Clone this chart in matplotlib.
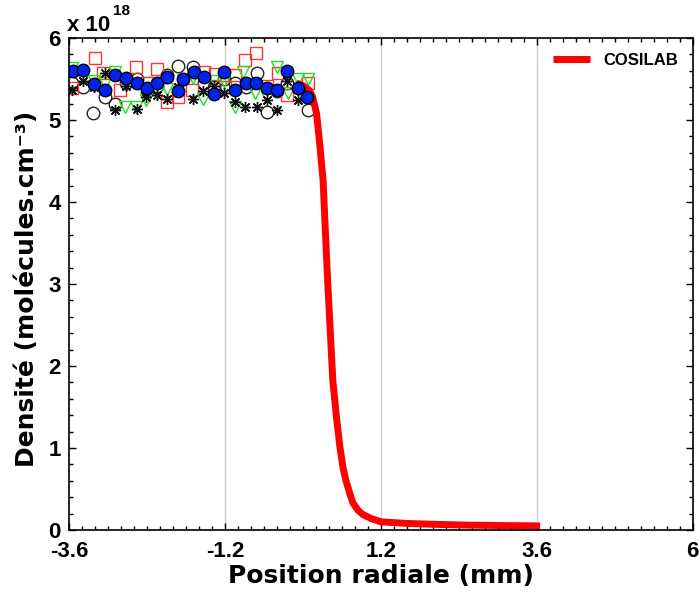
import matplotlib.pyplot as plt
import numpy as np

# Donnees (densite en unites de 1e18 molecules/cm3)
x_cosilab = [-0.10, 0.00, 0.10, 0.15, 0.21, 0.26, 0.31, 0.38, 0.46, 0.52, 0.57,
             0.62, 0.66, 0.72, 0.77, 0.85, 0.92, 1.05, 1.20, 1.60, 2.00, 2.50, 3.00, 3.65]
y_cosilab = [5.45, 5.42, 5.36, 5.28, 5.08, 4.70, 4.27, 3.05, 1.83, 1.35, 1.01,
             0.75, 0.61, 0.45, 0.33, 0.24, 0.19, 0.14, 0.10, 0.08, 0.07, 0.06, 0.055, 0.05]

x_circ = [-3.55, -3.38, -3.23, -3.05, -2.89, -2.72, -2.56, -2.40, -2.25, -2.09, -1.93,
          -1.69, -1.52, -1.37, -1.22, -1.05, -0.88, -0.71, -0.56, -0.40, -0.24, 0.08]
y_circ = [5.45, 5.40, 5.08, 5.28, 5.20, 5.45, 5.50, 5.35, 5.42, 5.55, 5.66,
          5.65, 5.45, 5.40, 5.50, 5.45, 5.40, 5.57, 5.10, 5.35, 5.45, 5.12]

x_sq = [-3.55, -3.20, -3.08, -2.81, -2.57, -2.40, -2.25, -2.09, -1.92, -1.70,
        -1.52, -1.36, -1.20, -1.05, -0.89, -0.72, -0.56, -0.38, -0.25, 0.08]
y_sq = [5.39, 5.76, 5.57, 5.37, 5.64, 5.45, 5.62, 5.22, 5.28, 5.37,
        5.59, 5.56, 5.40, 5.55, 5.73, 5.82, 5.42, 5.57, 5.30, 5.45]

x_tri = [-3.55, -3.38, -3.21, -3.05, -2.89, -2.74, -2.57, -2.41, -2.25, -2.09, -1.85, -1.69,
         -1.54, -1.37, -1.22, -1.05, -0.92, -0.74, -0.56, -0.40, -0.23, -0.07, 0.08]
y_tri = [5.63, 5.51, 5.48, 5.45, 5.59, 5.16, 5.16, 5.24, 5.33, 5.38, 5.49, 5.51,
         5.26, 5.47, 5.47, 5.16, 5.59, 5.33, 5.28, 5.65, 5.33, 5.50, 5.50]

x_ast = [-3.55, -3.38, -3.21, -3.05, -2.89, -2.72, -2.55, -2.42, -2.25, -2.09, -1.93,
         -1.69, -1.54, -1.37, -1.22, -1.05, -0.89, -0.71, -0.56, -0.40, -0.24, -0.08]
y_ast = [5.37, 5.47, 5.40, 5.57, 5.12, 5.41, 5.13, 5.28, 5.30, 5.26, 5.40,
         5.26, 5.35, 5.42, 5.33, 5.22, 5.16, 5.16, 5.24, 5.12, 5.47, 5.24]

x_blue = [-3.54, -3.38, -3.21, -3.05, -2.89, -2.72, -2.56, -2.40, -2.24, -2.09, -1.93, -1.84,
          -1.68, -1.52, -1.37, -1.22, -1.05, -0.88, -0.72, -0.56, -0.40, -0.25, -0.08, 0.06]
y_blue = [5.60, 5.61, 5.44, 5.37, 5.55, 5.51, 5.45, 5.39, 5.45, 5.53, 5.35, 5.50,
          5.59, 5.52, 5.32, 5.58, 5.36, 5.45, 5.45, 5.39, 5.37, 5.60, 5.39, 5.28]

xticks = [-3.6, -1.2, 1.2, 3.6, 6]
xtick_labels = ['-3.6', '-1.2', '1.2', '3.6', '6']
yticks = [0, 1, 2, 3, 4, 5, 6]

fig = plt.figure(figsize=(7, 5.98), dpi=100)
ax = fig.add_axes([0.0986, 0.1137, 0.891, 0.8228])

for xv in [-1.2, 1.2, 3.6]:
    ax.axvline(xv, color='#cccccc', lw=1, zorder=0)

ax.plot(x_circ, y_circ, 'o', mfc='none', mec='#222222', ms=9, mew=1.0, ls='none')
ax.plot(x_sq, y_sq, 's', mfc='none', mec='#ff3333', ms=8, mew=1.0, ls='none')
ax.plot(x_tri, y_tri, 'v', mfc='none', mec='#22dd22', ms=9, mew=1.0, ls='none')
ax.plot(x_ast, y_ast, marker=(8, 2, 0), color='#111111', ms=8, mew=1.0, ls='none')
ax.plot(x_cosilab, y_cosilab, color='red', lw=5, label='COSILAB', solid_capstyle='butt')
ax.plot(x_blue, y_blue, 'o', mfc='#0022ee', mec='black', ms=9, mew=1.0, ls='none')

ax.set_xlim(-3.6, 6)
ax.set_ylim(0, 6)
ax.set_xticks(xticks)
ax.set_xticklabels(xtick_labels)
ax.set_yticks(yticks)
ax.set_xticks(np.arange(-3.6, 6.01, 0.2), minor=True)
ax.set_yticks(np.arange(0, 6.01, 0.2), minor=True)
ax.tick_params(which='both', direction='in', top=True, right=True, width=1)
ax.tick_params(which='major', length=5)
ax.tick_params(axis='x', which='major', pad=8)
ax.tick_params(axis='y', which='major', pad=6)
ax.tick_params(which='minor', length=3)
for lab in ax.get_xticklabels() + ax.get_yticklabels():
    lab.set_fontfamily('Liberation Sans')
    lab.set_fontweight('bold')
    lab.set_fontsize(16)
for s in ax.spines.values():
    s.set_linewidth(1.2)

ax.set_xlabel('Position radiale (mm)', fontsize=18, fontweight='bold', family='DejaVu Sans')
ax.xaxis.set_label_coords(0.5, -0.07)
ax.set_ylabel('Densité (molécules.cm⁻³)', fontsize=18, fontweight='bold',
              family=['DejaVu Sans'])
ax.yaxis.set_label_coords(-0.048, 0.49)

fig.text(0.096, 0.958, 'x 10', fontsize=16, fontweight='bold', family='Liberation Sans', va='center')
fig.text(0.161, 0.981, '18', fontsize=11, fontweight='bold', family='Liberation Sans', va='center')

leg = ax.legend(loc='upper right', frameon=False, handlelength=2.2,
                prop={'weight': 'bold', 'size': 12, 'family': 'Liberation Sans'})

fig.savefig('out.png', dpi=100)
